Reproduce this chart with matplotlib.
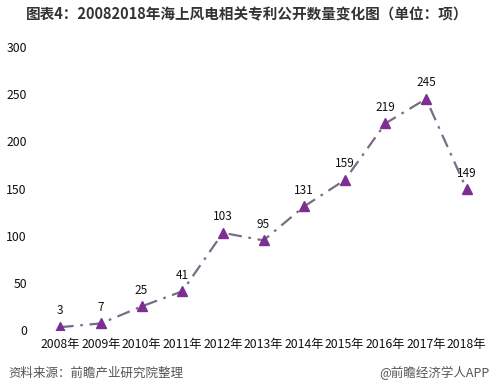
import matplotlib
matplotlib.use('Agg')
from matplotlib import pyplot as plt

plt.rcParams['font.family'] = ['Noto Sans CJK SC', 'DejaVu Sans']

years = ['2008年', '2009年', '2010年', '2011年', '2012年', '2013年',
         '2014年', '2015年', '2016年', '2017年', '2018年']
patents = [3, 7, 25, 41, 103, 95, 131, 159, 219, 245, 149]
yticks = [0, 50, 100, 150, 200, 250, 300]

fig = plt.figure(figsize=(4.99, 3.91), dpi=100)
ax = fig.add_axes([40 / 499, 61 / 391, 447 / 499, 283 / 391])

x = list(range(len(years)))
ax.plot(x, patents, color='#766e84', linewidth=1.6, dashes=(6, 3, 1.2, 3), zorder=2)
ax.plot(x, patents, linestyle='none', marker='^', markersize=7,
        color='#7b2f92', zorder=3)

for xi, v in zip(x, patents):
    ax.annotate(str(v), (xi, v), xytext=(0, 7), textcoords='offset points',
                ha='center', va='bottom', fontsize=8.5, color='#111111')

ax.set_xlim(-0.5, len(years) - 0.5)
ax.set_ylim(0, 300)
ax.set_xticks(x)
ax.set_xticklabels(years, fontsize=8.8, color='#111111')
ax.set_yticks(yticks)
ax.set_yticklabels([str(t) for t in yticks], fontsize=8.8, color='#111111')
ax.tick_params(length=0)
ax.tick_params(axis='y', pad=9.5)
ax.tick_params(axis='x', pad=6)
for s in ax.spines.values():
    s.set_visible(False)

fig.text(0.495, 0.962, '图表4：20082018年海上风电相关专利公开数量变化图（单位：项）',
         ha='center', va='center', fontsize=10.5, fontweight='bold', color='#333333')
fig.text(8 / 499, 1 - 373 / 391, '资料来源：前瞻产业研究院整理',
         ha='left', va='center', fontsize=9, color='#555555', style='italic')
fig.text(490 / 499, 1 - 373 / 391, '@前瞻经济学人APP',
         ha='right', va='center', fontsize=9, color='#555555')

fig.savefig('out.png', dpi=100)
